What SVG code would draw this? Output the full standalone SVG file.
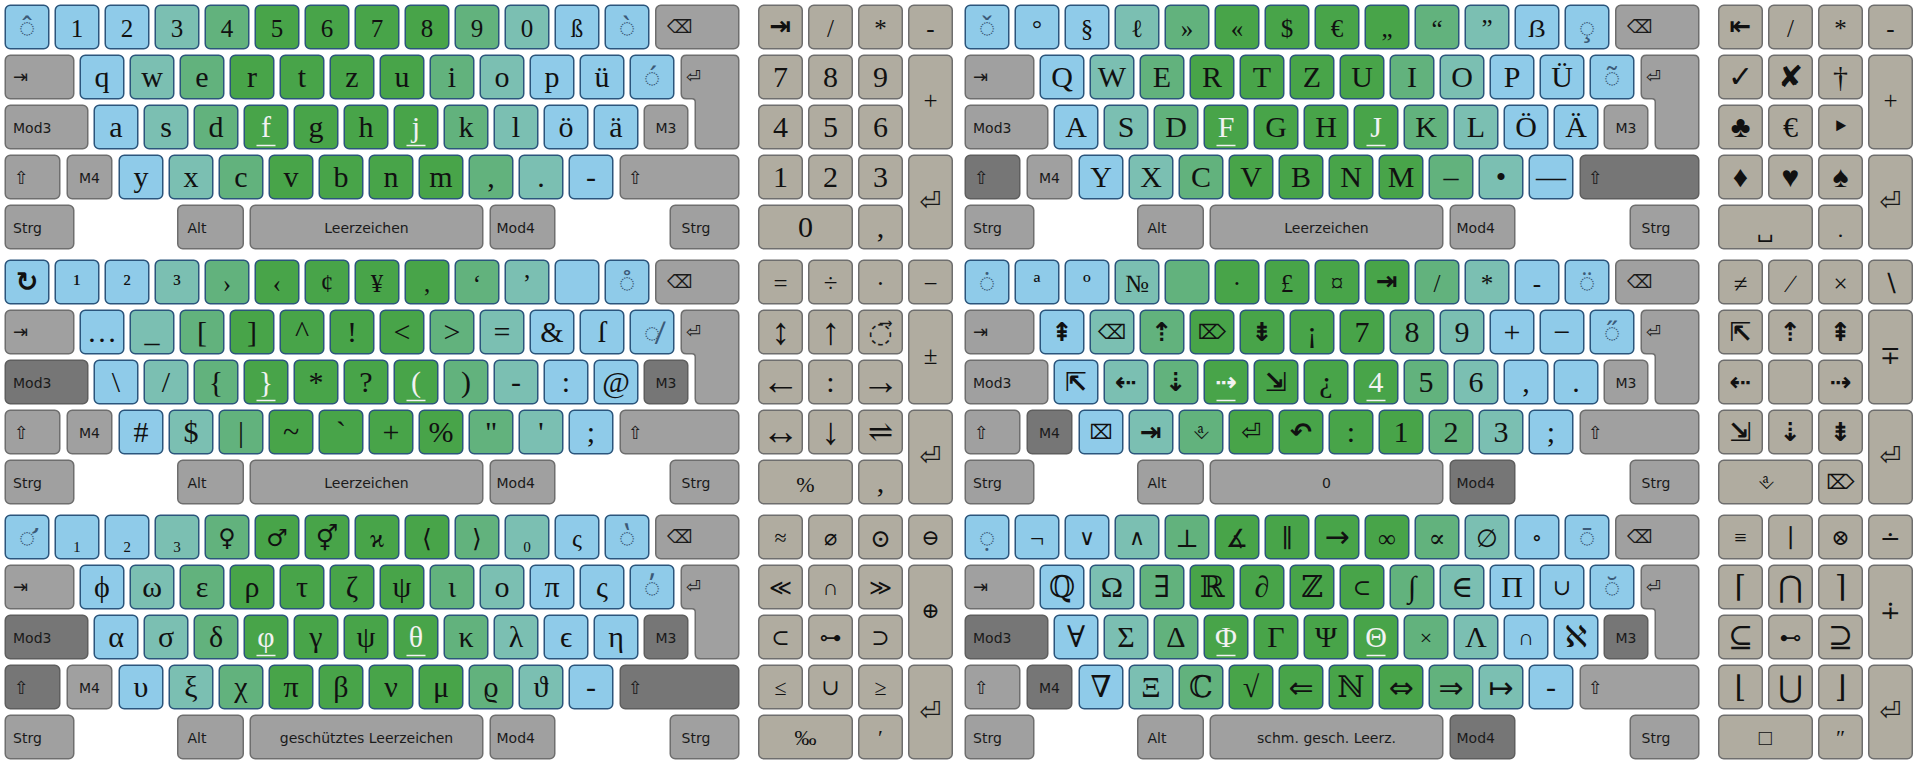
<svg xmlns="http://www.w3.org/2000/svg" width="1920" height="765" viewBox="0 0 1920 765">
<style>
.b{fill:#8fcbe9;stroke:#2b557c;stroke-width:1.5}
.t{fill:#7bbfb2;stroke:#2b557c;stroke-width:1.5}
.m{fill:#62b27d;stroke:#2b557c;stroke-width:1.5}
.g{fill:#48a449;stroke:#2b557c;stroke-width:1.5}
.n{fill:#a0a0a0;stroke:#6e6e6e;stroke-width:1.5}
.d{fill:#767676;stroke:#5e5e5e;stroke-width:1.5}
.p{fill:#b0aca0;stroke:#6e6e6e;stroke-width:1.5}
text{font-family:"Liberation Serif","DejaVu Serif","DejaVu Sans",serif;text-anchor:middle;fill:#111}
.R1 text{font-size:25px}
.R text{font-size:30px}
text.dk{font-family:"Noto Sans","DejaVu Sans",sans-serif;font-size:28px;fill:#3b5a78}
text.w{fill:#f2f2f2}
text.lb{font-family:"DejaVu Sans",sans-serif;font-size:14px;text-anchor:start;fill:#1a1a1a}
text.lc{font-family:"DejaVu Sans",sans-serif;font-size:14px;fill:#1a1a1a}
text.sy{font-family:"DejaVu Sans",sans-serif;font-size:18px;text-anchor:start;fill:#1a1a1a}
text.en{font-family:"DejaVu Sans",sans-serif;font-size:26px;fill:#1a1a1a}
text.ts{font-family:"DejaVu Sans",sans-serif;font-size:20px}
text.ar{font-family:"DejaVu Sans",sans-serif;font-size:30px}
text.la{font-family:"Liberation Serif","DejaVu Serif",serif;font-size:38px}
text.bd{font-family:"DejaVu Sans",sans-serif;font-size:26px;font-weight:bold}
text.sm{font-size:22px}
text.gs{font-family:"DejaVu Sans",sans-serif;font-size:24px}
.u{stroke:#f2f2f2;stroke-width:1.5;fill:none}
</style>
<defs>
<rect id="k" width="43.5" height="43.5" rx="5"/>
<rect id="bs" width="83" height="43.5" rx="5"/>
<rect id="tb" width="68.5" height="43.5" rx="5"/>
<rect id="m3w" width="82.5" height="43.5" rx="5"/>
<rect id="ls" width="54.5" height="43.5" rx="5"/>
<rect id="m4k" width="44.5" height="43.5" rx="5"/>
<rect id="rs" width="118.5" height="43.5" rx="5"/>
<rect id="al" width="65.5" height="43.5" rx="5"/>
<rect id="sp" width="232.5" height="43.5" rx="5"/>
<rect id="md4" width="64.5" height="43.5" rx="5"/>
<rect id="tl" width="43.5" height="93.5" rx="5"/>
<rect id="wd" width="93.5" height="43.5" rx="5"/>
<path id="en" d="M686.25,55.25H733.75Q738.75,55.25 738.75,60.25V143.75Q738.75,148.75 733.75,148.75H700.25Q695.25,148.75 695.25,143.75V102Q695.25,98.75 692,98.75H686.25Q681.25,98.75 681.25,93.75V60.25Q681.25,55.25 686.25,55.25Z"/>
</defs>
<rect width="1920" height="765" fill="#ffffff"/>
<g id="connectors"/>

<!-- ================= LAYER 1 ================= -->
<g id="L1" transform="translate(0 0)">
<g class="R1">
<g id="L1a0"><use href="#k" class="b" x="5.25" y="5.25"/><text class="dk" x="27" y="37">◌̂</text></g>
<g id="L1a1"><use href="#k" class="b" x="55.25" y="5.25"/><text x="77" y="36.5">1</text></g>
<g id="L1a2"><use href="#k" class="b" x="105.25" y="5.25"/><text x="127" y="36.5">2</text></g>
<g id="L1a3"><use href="#k" class="t" x="155.25" y="5.25"/><text x="177" y="36.5">3</text></g>
<g id="L1a4"><use href="#k" class="m" x="205.25" y="5.25"/><text x="227" y="36.5">4</text></g>
<g id="L1a5"><use href="#k" class="g" x="255.25" y="5.25"/><text x="277" y="36.5">5</text></g>
<g id="L1a6"><use href="#k" class="g" x="305.25" y="5.25"/><text x="327" y="36.5">6</text></g>
<g id="L1a7"><use href="#k" class="g" x="355.25" y="5.25"/><text x="377" y="36.5">7</text></g>
<g id="L1a8"><use href="#k" class="g" x="405.25" y="5.25"/><text x="427" y="36.5">8</text></g>
<g id="L1a9"><use href="#k" class="m" x="455.25" y="5.25"/><text x="477" y="36.5">9</text></g>
<g id="L1a10"><use href="#k" class="t" x="505.25" y="5.25"/><text x="527" y="36.5">0</text></g>
<g id="L1a11"><use href="#k" class="b" x="555.25" y="5.25"/><text x="577" y="36.5">ß</text></g>
<g id="L1a12"><use href="#k" class="b" x="605.25" y="5.25"/><text class="dk" x="627" y="37">◌̀</text></g>
</g>
<g class="R">
<g id="L1b0"><use href="#k" class="b" x="80.25" y="55.25"/><text x="102" y="86.5">q</text></g>
<g id="L1b1"><use href="#k" class="t" x="130.25" y="55.25"/><text x="152" y="86.5">w</text></g>
<g id="L1b2"><use href="#k" class="m" x="180.25" y="55.25"/><text x="202" y="86.5">e</text></g>
<g id="L1b3"><use href="#k" class="g" x="230.25" y="55.25"/><text x="252" y="86.5">r</text></g>
<g id="L1b4"><use href="#k" class="g" x="280.25" y="55.25"/><text x="302" y="86.5">t</text></g>
<g id="L1b5"><use href="#k" class="g" x="330.25" y="55.25"/><text x="352" y="86.5">z</text></g>
<g id="L1b6"><use href="#k" class="g" x="380.25" y="55.25"/><text x="402" y="86.5">u</text></g>
<g id="L1b7"><use href="#k" class="m" x="430.25" y="55.25"/><text x="452" y="86.5">i</text></g>
<g id="L1b8"><use href="#k" class="t" x="480.25" y="55.25"/><text x="502" y="86.5">o</text></g>
<g id="L1b9"><use href="#k" class="b" x="530.25" y="55.25"/><text x="552" y="86.5">p</text></g>
<g id="L1b10"><use href="#k" class="b" x="580.25" y="55.25"/><text x="602" y="86.5">ü</text></g>
<g id="L1b11"><use href="#k" class="b" x="630.25" y="55.25"/><text class="dk" x="652" y="87">◌́</text></g>
<g id="L1c0"><use href="#k" class="b" x="94.25" y="105.25"/><text x="116" y="136.5">a</text></g>
<g id="L1c1"><use href="#k" class="t" x="144.25" y="105.25"/><text x="166" y="136.5">s</text></g>
<g id="L1c2"><use href="#k" class="m" x="194.25" y="105.25"/><text x="216" y="136.5">d</text></g>
<g id="L1c3"><use href="#k" class="g" x="244.25" y="105.25"/><text class="w" x="266" y="136.5">f</text><path class="u" d="M256.5 145.5h19"/></g>
<g id="L1c4"><use href="#k" class="g" x="294.25" y="105.25"/><text x="316" y="136.5">g</text></g>
<g id="L1c5"><use href="#k" class="g" x="344.25" y="105.25"/><text x="366" y="136.5">h</text></g>
<g id="L1c6"><use href="#k" class="g" x="394.25" y="105.25"/><text class="w" x="416" y="136.5">j</text><path class="u" d="M406.5 145.5h19"/></g>
<g id="L1c7"><use href="#k" class="m" x="444.25" y="105.25"/><text x="466" y="136.5">k</text></g>
<g id="L1c8"><use href="#k" class="t" x="494.25" y="105.25"/><text x="516" y="136.5">l</text></g>
<g id="L1c9"><use href="#k" class="b" x="544.25" y="105.25"/><text x="566" y="136.5">ö</text></g>
<g id="L1c10"><use href="#k" class="b" x="594.25" y="105.25"/><text x="616" y="136.5">ä</text></g>
<g id="L1d0"><use href="#k" class="b" x="119.25" y="155.25"/><text x="141" y="186.5">y</text></g>
<g id="L1d1"><use href="#k" class="t" x="169.25" y="155.25"/><text x="191" y="186.5">x</text></g>
<g id="L1d2"><use href="#k" class="m" x="219.25" y="155.25"/><text x="241" y="186.5">c</text></g>
<g id="L1d3"><use href="#k" class="g" x="269.25" y="155.25"/><text x="291" y="186.5">v</text></g>
<g id="L1d4"><use href="#k" class="g" x="319.25" y="155.25"/><text x="341" y="186.5">b</text></g>
<g id="L1d5"><use href="#k" class="g" x="369.25" y="155.25"/><text x="391" y="186.5">n</text></g>
<g id="L1d6"><use href="#k" class="g" x="419.25" y="155.25"/><text x="441" y="186.5">m</text></g>
<g id="L1d7"><use href="#k" class="m" x="469.25" y="155.25"/><text x="491" y="186.5">,</text></g>
<g id="L1d8"><use href="#k" class="t" x="519.25" y="155.25"/><text x="541" y="186.5">.</text></g>
<g id="L1d9"><use href="#k" class="b" x="569.25" y="155.25"/><text x="591" y="186.5">-</text></g>
</g>
<g id="L1bs"><use href="#bs" class="n" x="655.75" y="5.25"/><text class="sy" x="667" y="33">⌫</text></g>
<g id="L1tab"><use href="#tb" class="n" x="5.25" y="55.25"/><text class="sy" x="13" y="83">⇥</text></g>
<g id="L1ent"><use href="#en" class="n"/><text class="sy" x="686" y="83">⏎</text></g>
<g id="L1mod3"><use href="#m3w" class="n" x="5.25" y="105.25"/><text class="lb" x="13" y="133">Mod3</text></g>
<g id="L1m3"><use href="#k" class="n" x="644.25" y="105.25"/><text class="lc" x="666" y="133">M3</text></g>
<g id="L1ls"><use href="#ls" class="n" x="5.25" y="155.25"/><text class="sy" x="14" y="184">⇧</text></g>
<g id="L1m4"><use href="#m4k" class="n" x="67.25" y="155.25"/><text class="lc" x="89.5" y="183">M4</text></g>
<g id="L1rs"><use href="#rs" class="n" x="620.25" y="155.25"/><text class="sy" x="628" y="184">⇧</text></g>
<g id="L1strgl"><use href="#tb" class="n" x="5.25" y="205.25"/><text class="lb" x="13" y="233">Strg</text></g>
<g id="L1alt"><use href="#al" class="n" x="177.75" y="205.25"/><text class="lb" x="187.5" y="233">Alt</text></g>
<g id="L1sp"><use href="#sp" class="n" x="250.25" y="205.25"/><text class="lc" x="366.5" y="233">Leerzeichen</text></g>
<g id="L1mod4"><use href="#md4" class="n" x="490.25" y="205.25"/><text class="lb" x="496.5" y="233">Mod4</text></g>
<g id="L1strgr"><use href="#tb" class="n" x="670.25" y="205.25"/><text class="lb" x="681.5" y="233">Strg</text></g>
<g class="R1">
<g id="L1n0"><use href="#k" class="p" x="758.75" y="5.25"/><text class="bd" x="780.5" y="35">⇥</text></g>
<g id="L1n1"><use href="#k" class="p" x="808.75" y="5.25"/><text x="830.5" y="36.5">/</text></g>
<g id="L1n2"><use href="#k" class="p" x="858.75" y="5.25"/><text x="880.5" y="36.5">*</text></g>
<g id="L1n3"><use href="#k" class="p" x="908.75" y="5.25"/><text x="930.5" y="36.5">-</text></g>
<g id="L1n4"><use href="#tl" class="p" x="908.75" y="55.25"/><text x="930.5" y="109">+</text></g>
</g>
<g class="R">
<g id="L1n5"><use href="#k" class="p" x="758.75" y="55.25"/><text x="780.5" y="86.5">7</text></g>
<g id="L1n6"><use href="#k" class="p" x="808.75" y="55.25"/><text x="830.5" y="86.5">8</text></g>
<g id="L1n7"><use href="#k" class="p" x="858.75" y="55.25"/><text x="880.5" y="86.5">9</text></g>
<g id="L1n8"><use href="#k" class="p" x="758.75" y="105.25"/><text x="780.5" y="136.5">4</text></g>
<g id="L1n9"><use href="#k" class="p" x="808.75" y="105.25"/><text x="830.5" y="136.5">5</text></g>
<g id="L1n10"><use href="#k" class="p" x="858.75" y="105.25"/><text x="880.5" y="136.5">6</text></g>
<g id="L1n11"><use href="#k" class="p" x="758.75" y="155.25"/><text x="780.5" y="186.5">1</text></g>
<g id="L1n12"><use href="#k" class="p" x="808.75" y="155.25"/><text x="830.5" y="186.5">2</text></g>
<g id="L1n13"><use href="#k" class="p" x="858.75" y="155.25"/><text x="880.5" y="186.5">3</text></g>
<g id="L1n14"><use href="#tl" class="p" x="908.75" y="155.25"/><text class="en" x="930.5" y="210">⏎</text></g>
<g id="L1n15"><use href="#wd" class="p" x="758.75" y="205.25"/><text x="805.5" y="236.5">0</text></g>
<g id="L1n16"><use href="#k" class="p" x="858.75" y="205.25"/><text x="880.5" y="236.5">,</text></g>
</g>
</g>

<!-- ================= LAYER 2 ================= -->
<g id="L2" transform="translate(960 0)">
<g class="R1">
<g id="L2a0"><use href="#k" class="b" x="5.25" y="5.25"/><text class="dk" x="27" y="37">◌̌</text></g>
<g id="L2a1"><use href="#k" class="b" x="55.25" y="5.25"/><text x="77" y="36.5">°</text></g>
<g id="L2a2"><use href="#k" class="b" x="105.25" y="5.25"/><text x="127" y="36.5">§</text></g>
<g id="L2a3"><use href="#k" class="t" x="155.25" y="5.25"/><text x="177" y="36.5">ℓ</text></g>
<g id="L2a4"><use href="#k" class="m" x="205.25" y="5.25"/><text x="227" y="36.5">»</text></g>
<g id="L2a5"><use href="#k" class="g" x="255.25" y="5.25"/><text x="277" y="36.5">«</text></g>
<g id="L2a6"><use href="#k" class="g" x="305.25" y="5.25"/><text x="327" y="36.5">$</text></g>
<g id="L2a7"><use href="#k" class="g" x="355.25" y="5.25"/><text x="377" y="36.5">€</text></g>
<g id="L2a8"><use href="#k" class="g" x="405.25" y="5.25"/><text x="427" y="36.5">„</text></g>
<g id="L2a9"><use href="#k" class="m" x="455.25" y="5.25"/><text x="477" y="36.5">“</text></g>
<g id="L2a10"><use href="#k" class="t" x="505.25" y="5.25"/><text x="527" y="36.5">”</text></g>
<g id="L2a11"><use href="#k" class="b" x="555.25" y="5.25"/><text x="577" y="36.5">ẞ</text></g>
<g id="L2a12"><use href="#k" class="b" x="605.25" y="5.25"/><text class="dk" x="627" y="37">◌̧</text></g>
</g>
<g class="R">
<g id="L2b0"><use href="#k" class="b" x="80.25" y="55.25"/><text x="102" y="86.5">Q</text></g>
<g id="L2b1"><use href="#k" class="t" x="130.25" y="55.25"/><text x="152" y="86.5">W</text></g>
<g id="L2b2"><use href="#k" class="m" x="180.25" y="55.25"/><text x="202" y="86.5">E</text></g>
<g id="L2b3"><use href="#k" class="g" x="230.25" y="55.25"/><text x="252" y="86.5">R</text></g>
<g id="L2b4"><use href="#k" class="g" x="280.25" y="55.25"/><text x="302" y="86.5">T</text></g>
<g id="L2b5"><use href="#k" class="g" x="330.25" y="55.25"/><text x="352" y="86.5">Z</text></g>
<g id="L2b6"><use href="#k" class="g" x="380.25" y="55.25"/><text x="402" y="86.5">U</text></g>
<g id="L2b7"><use href="#k" class="m" x="430.25" y="55.25"/><text x="452" y="86.5">I</text></g>
<g id="L2b8"><use href="#k" class="t" x="480.25" y="55.25"/><text x="502" y="86.5">O</text></g>
<g id="L2b9"><use href="#k" class="b" x="530.25" y="55.25"/><text x="552" y="86.5">P</text></g>
<g id="L2b10"><use href="#k" class="b" x="580.25" y="55.25"/><text x="602" y="86.5">Ü</text></g>
<g id="L2b11"><use href="#k" class="b" x="630.25" y="55.25"/><text class="dk" x="652" y="87">◌̃</text></g>
<g id="L2c0"><use href="#k" class="b" x="94.25" y="105.25"/><text x="116" y="136.5">A</text></g>
<g id="L2c1"><use href="#k" class="t" x="144.25" y="105.25"/><text x="166" y="136.5">S</text></g>
<g id="L2c2"><use href="#k" class="m" x="194.25" y="105.25"/><text x="216" y="136.5">D</text></g>
<g id="L2c3"><use href="#k" class="g" x="244.25" y="105.25"/><text class="w" x="266" y="136.5">F</text><path class="u" d="M256.5 145.5h19"/></g>
<g id="L2c4"><use href="#k" class="g" x="294.25" y="105.25"/><text x="316" y="136.5">G</text></g>
<g id="L2c5"><use href="#k" class="g" x="344.25" y="105.25"/><text x="366" y="136.5">H</text></g>
<g id="L2c6"><use href="#k" class="g" x="394.25" y="105.25"/><text class="w" x="416" y="136.5">J</text><path class="u" d="M406.5 145.5h19"/></g>
<g id="L2c7"><use href="#k" class="m" x="444.25" y="105.25"/><text x="466" y="136.5">K</text></g>
<g id="L2c8"><use href="#k" class="t" x="494.25" y="105.25"/><text x="516" y="136.5">L</text></g>
<g id="L2c9"><use href="#k" class="b" x="544.25" y="105.25"/><text x="566" y="136.5">Ö</text></g>
<g id="L2c10"><use href="#k" class="b" x="594.25" y="105.25"/><text x="616" y="136.5">Ä</text></g>
<g id="L2d0"><use href="#k" class="b" x="119.25" y="155.25"/><text x="141" y="186.5">Y</text></g>
<g id="L2d1"><use href="#k" class="t" x="169.25" y="155.25"/><text x="191" y="186.5">X</text></g>
<g id="L2d2"><use href="#k" class="m" x="219.25" y="155.25"/><text x="241" y="186.5">C</text></g>
<g id="L2d3"><use href="#k" class="g" x="269.25" y="155.25"/><text x="291" y="186.5">V</text></g>
<g id="L2d4"><use href="#k" class="g" x="319.25" y="155.25"/><text x="341" y="186.5">B</text></g>
<g id="L2d5"><use href="#k" class="g" x="369.25" y="155.25"/><text x="391" y="186.5">N</text></g>
<g id="L2d6"><use href="#k" class="g" x="419.25" y="155.25"/><text x="441" y="186.5">M</text></g>
<g id="L2d7"><use href="#k" class="m" x="469.25" y="155.25"/><text x="491" y="186.5">–</text></g>
<g id="L2d8"><use href="#k" class="t" x="519.25" y="155.25"/><text x="541" y="186.5">•</text></g>
<g id="L2d9"><use href="#k" class="b" x="569.25" y="155.25"/><text x="591" y="186.5">—</text></g>
</g>
<g id="L2bs"><use href="#bs" class="n" x="655.75" y="5.25"/><text class="sy" x="667" y="33">⌫</text></g>
<g id="L2tab"><use href="#tb" class="n" x="5.25" y="55.25"/><text class="sy" x="13" y="83">⇥</text></g>
<g id="L2ent"><use href="#en" class="n"/><text class="sy" x="686" y="83">⏎</text></g>
<g id="L2mod3"><use href="#m3w" class="n" x="5.25" y="105.25"/><text class="lb" x="13" y="133">Mod3</text></g>
<g id="L2m3"><use href="#k" class="n" x="644.25" y="105.25"/><text class="lc" x="666" y="133">M3</text></g>
<g id="L2ls"><use href="#ls" class="d" x="5.25" y="155.25"/><text class="sy" x="14" y="184">⇧</text></g>
<g id="L2m4"><use href="#m4k" class="n" x="67.25" y="155.25"/><text class="lc" x="89.5" y="183">M4</text></g>
<g id="L2rs"><use href="#rs" class="d" x="620.25" y="155.25"/><text class="sy" x="628" y="184">⇧</text></g>
<g id="L2strgl"><use href="#tb" class="n" x="5.25" y="205.25"/><text class="lb" x="13" y="233">Strg</text></g>
<g id="L2alt"><use href="#al" class="n" x="177.75" y="205.25"/><text class="lb" x="187.5" y="233">Alt</text></g>
<g id="L2sp"><use href="#sp" class="n" x="250.25" y="205.25"/><text class="lc" x="366.5" y="233">Leerzeichen</text></g>
<g id="L2mod4"><use href="#md4" class="n" x="490.25" y="205.25"/><text class="lb" x="496.5" y="233">Mod4</text></g>
<g id="L2strgr"><use href="#tb" class="n" x="670.25" y="205.25"/><text class="lb" x="681.5" y="233">Strg</text></g>
<g class="R1">
<g id="L2n0"><use href="#k" class="p" x="758.75" y="5.25"/><text class="bd" x="780.5" y="35">⇤</text></g>
<g id="L2n1"><use href="#k" class="p" x="808.75" y="5.25"/><text x="830.5" y="36.5">/</text></g>
<g id="L2n2"><use href="#k" class="p" x="858.75" y="5.25"/><text x="880.5" y="36.5">*</text></g>
<g id="L2n3"><use href="#k" class="p" x="908.75" y="5.25"/><text x="930.5" y="36.5">-</text></g>
<g id="L2n4"><use href="#tl" class="p" x="908.75" y="55.25"/><text x="930.5" y="109">+</text></g>
</g>
<g class="R">
<g id="L2n5"><use href="#k" class="p" x="758.75" y="55.25"/><text x="780.5" y="86.5">✓</text></g>
<g id="L2n6"><use href="#k" class="p" x="808.75" y="55.25"/><text x="830.5" y="86.5">✘</text></g>
<g id="L2n7"><use href="#k" class="p" x="858.75" y="55.25"/><text x="880.5" y="86.5">†</text></g>
<g id="L2n8"><use href="#k" class="p" x="758.75" y="105.25"/><text x="780.5" y="136.5">♣</text></g>
<g id="L2n9"><use href="#k" class="p" x="808.75" y="105.25"/><text x="830.5" y="136.5">€</text></g>
<g id="L2n10"><use href="#k" class="p" x="858.75" y="105.25"/><text x="880.5" y="136.5">‣</text></g>
<g id="L2n11"><use href="#k" class="p" x="758.75" y="155.25"/><text x="780.5" y="186.5">♦</text></g>
<g id="L2n12"><use href="#k" class="p" x="808.75" y="155.25"/><text x="830.5" y="186.5">♥</text></g>
<g id="L2n13"><use href="#k" class="p" x="858.75" y="155.25"/><text x="880.5" y="186.5">♠</text></g>
<g id="L2n14"><use href="#tl" class="p" x="908.75" y="155.25"/><text class="en" x="930.5" y="210">⏎</text></g>
<g id="L2n15"><use href="#wd" class="p" x="758.75" y="205.25"/><text class="sm" x="805.5" y="236.5">␣</text></g>
<g id="L2n16"><use href="#k" class="p" x="858.75" y="205.25"/><text class="sm" x="880.5" y="236.5">.</text></g>
</g>
</g>

<!-- ================= LAYER 3 ================= -->
<g id="L3" transform="translate(0 255)">
<g class="R1">
<g id="L3a0"><use href="#k" class="b" x="5.25" y="5.25"/><text class="bd" x="27" y="36" style="font-size:27px">↻</text></g>
<g id="L3a1"><use href="#k" class="b" x="55.25" y="5.25"/><text x="77" y="36.5">¹</text></g>
<g id="L3a2"><use href="#k" class="b" x="105.25" y="5.25"/><text x="127" y="36.5">²</text></g>
<g id="L3a3"><use href="#k" class="t" x="155.25" y="5.25"/><text x="177" y="36.5">³</text></g>
<g id="L3a4"><use href="#k" class="m" x="205.25" y="5.25"/><text x="227" y="36.5">›</text></g>
<g id="L3a5"><use href="#k" class="g" x="255.25" y="5.25"/><text x="277" y="36.5">‹</text></g>
<g id="L3a6"><use href="#k" class="g" x="305.25" y="5.25"/><text x="327" y="36.5">¢</text></g>
<g id="L3a7"><use href="#k" class="g" x="355.25" y="5.25"/><text x="377" y="36.5">¥</text></g>
<g id="L3a8"><use href="#k" class="g" x="405.25" y="5.25"/><text x="427" y="36.5">‚</text></g>
<g id="L3a9"><use href="#k" class="m" x="455.25" y="5.25"/><text x="477" y="36.5">‘</text></g>
<g id="L3a10"><use href="#k" class="t" x="505.25" y="5.25"/><text x="527" y="36.5">’</text></g>
<g id="L3a11"><use href="#k" class="b" x="555.25" y="5.25"/></g>
<g id="L3a12"><use href="#k" class="b" x="605.25" y="5.25"/><text class="dk" x="627" y="37">◌̊</text></g>
</g>
<g class="R">
<g id="L3b0"><use href="#k" class="b" x="80.25" y="55.25"/><text x="102" y="86.5">…</text></g>
<g id="L3b1"><use href="#k" class="t" x="130.25" y="55.25"/><text x="152" y="86.5">_</text></g>
<g id="L3b2"><use href="#k" class="m" x="180.25" y="55.25"/><text x="202" y="86.5">[</text></g>
<g id="L3b3"><use href="#k" class="g" x="230.25" y="55.25"/><text x="252" y="86.5">]</text></g>
<g id="L3b4"><use href="#k" class="g" x="280.25" y="55.25"/><text x="302" y="86.5">^</text></g>
<g id="L3b5"><use href="#k" class="g" x="330.25" y="55.25"/><text x="352" y="86.5">!</text></g>
<g id="L3b6"><use href="#k" class="g" x="380.25" y="55.25"/><text x="402" y="86.5">&lt;</text></g>
<g id="L3b7"><use href="#k" class="m" x="430.25" y="55.25"/><text x="452" y="86.5">&gt;</text></g>
<g id="L3b8"><use href="#k" class="t" x="480.25" y="55.25"/><text x="502" y="86.5">=</text></g>
<g id="L3b9"><use href="#k" class="b" x="530.25" y="55.25"/><text x="552" y="86.5">&amp;</text></g>
<g id="L3b10"><use href="#k" class="b" x="580.25" y="55.25"/><text x="602" y="86.5">ſ</text></g>
<g id="L3b11"><use href="#k" class="b" x="630.25" y="55.25"/><text class="dk" x="652" y="87">◌̸</text></g>
<g id="L3c0"><use href="#k" class="b" x="94.25" y="105.25"/><text x="116" y="136.5">\</text></g>
<g id="L3c1"><use href="#k" class="t" x="144.25" y="105.25"/><text x="166" y="136.5">/</text></g>
<g id="L3c2"><use href="#k" class="m" x="194.25" y="105.25"/><text x="216" y="136.5">{</text></g>
<g id="L3c3"><use href="#k" class="g" x="244.25" y="105.25"/><text class="w" x="266" y="136.5">}</text><path class="u" d="M256.5 145.5h19"/></g>
<g id="L3c4"><use href="#k" class="g" x="294.25" y="105.25"/><text x="316" y="136.5">*</text></g>
<g id="L3c5"><use href="#k" class="g" x="344.25" y="105.25"/><text x="366" y="136.5">?</text></g>
<g id="L3c6"><use href="#k" class="g" x="394.25" y="105.25"/><text class="w" x="416" y="136.5">(</text><path class="u" d="M406.5 145.5h19"/></g>
<g id="L3c7"><use href="#k" class="m" x="444.25" y="105.25"/><text x="466" y="136.5">)</text></g>
<g id="L3c8"><use href="#k" class="t" x="494.25" y="105.25"/><text x="516" y="136.5">-</text></g>
<g id="L3c9"><use href="#k" class="b" x="544.25" y="105.25"/><text x="566" y="136.5">:</text></g>
<g id="L3c10"><use href="#k" class="b" x="594.25" y="105.25"/><text x="616" y="136.5">@</text></g>
<g id="L3d0"><use href="#k" class="b" x="119.25" y="155.25"/><text x="141" y="186.5">#</text></g>
<g id="L3d1"><use href="#k" class="t" x="169.25" y="155.25"/><text x="191" y="186.5">$</text></g>
<g id="L3d2"><use href="#k" class="m" x="219.25" y="155.25"/><text x="241" y="186.5">|</text></g>
<g id="L3d3"><use href="#k" class="g" x="269.25" y="155.25"/><text x="291" y="186.5">~</text></g>
<g id="L3d4"><use href="#k" class="g" x="319.25" y="155.25"/><text x="341" y="186.5">`</text></g>
<g id="L3d5"><use href="#k" class="g" x="369.25" y="155.25"/><text x="391" y="186.5">+</text></g>
<g id="L3d6"><use href="#k" class="g" x="419.25" y="155.25"/><text x="441" y="186.5">%</text></g>
<g id="L3d7"><use href="#k" class="m" x="469.25" y="155.25"/><text x="491" y="186.5">"</text></g>
<g id="L3d8"><use href="#k" class="t" x="519.25" y="155.25"/><text x="541" y="186.5">'</text></g>
<g id="L3d9"><use href="#k" class="b" x="569.25" y="155.25"/><text x="591" y="186.5">;</text></g>
</g>
<g id="L3bs"><use href="#bs" class="n" x="655.75" y="5.25"/><text class="sy" x="667" y="33">⌫</text></g>
<g id="L3tab"><use href="#tb" class="n" x="5.25" y="55.25"/><text class="sy" x="13" y="83">⇥</text></g>
<g id="L3ent"><use href="#en" class="n"/><text class="sy" x="686" y="83">⏎</text></g>
<g id="L3mod3"><use href="#m3w" class="d" x="5.25" y="105.25"/><text class="lb" x="13" y="133">Mod3</text></g>
<g id="L3m3"><use href="#k" class="d" x="644.25" y="105.25"/><text class="lc" x="666" y="133">M3</text></g>
<g id="L3ls"><use href="#ls" class="n" x="5.25" y="155.25"/><text class="sy" x="14" y="184">⇧</text></g>
<g id="L3m4"><use href="#m4k" class="n" x="67.25" y="155.25"/><text class="lc" x="89.5" y="183">M4</text></g>
<g id="L3rs"><use href="#rs" class="n" x="620.25" y="155.25"/><text class="sy" x="628" y="184">⇧</text></g>
<g id="L3strgl"><use href="#tb" class="n" x="5.25" y="205.25"/><text class="lb" x="13" y="233">Strg</text></g>
<g id="L3alt"><use href="#al" class="n" x="177.75" y="205.25"/><text class="lb" x="187.5" y="233">Alt</text></g>
<g id="L3sp"><use href="#sp" class="n" x="250.25" y="205.25"/><text class="lc" x="366.5" y="233">Leerzeichen</text></g>
<g id="L3mod4"><use href="#md4" class="n" x="490.25" y="205.25"/><text class="lb" x="496.5" y="233">Mod4</text></g>
<g id="L3strgr"><use href="#tb" class="n" x="670.25" y="205.25"/><text class="lb" x="681.5" y="233">Strg</text></g>
<g class="R1">
<g id="L3n0"><use href="#k" class="p" x="758.75" y="5.25"/><text x="780.5" y="36.5">=</text></g>
<g id="L3n1"><use href="#k" class="p" x="808.75" y="5.25"/><text x="830.5" y="36.5">÷</text></g>
<g id="L3n2"><use href="#k" class="p" x="858.75" y="5.25"/><text x="880.5" y="36.5">·</text></g>
<g id="L3n3"><use href="#k" class="p" x="908.75" y="5.25"/><text x="930.5" y="36.5">−</text></g>
<g id="L3n4"><use href="#tl" class="p" x="908.75" y="55.25"/><text x="930.5" y="109">±</text></g>
</g>
<g class="R">
<g id="L3n5"><use href="#k" class="p" x="758.75" y="55.25"/><text class="la" x="780.5" y="89">↕</text></g>
<g id="L3n6"><use href="#k" class="p" x="808.75" y="55.25"/><text class="la" x="830.5" y="89">↑</text></g>
<g id="L3n7"><use href="#k" class="p" x="858.75" y="55.25"/><text class="dk" x="880.5" y="87" style="fill:#1a1a1a">◌⃗</text></g>
<g id="L3n8"><use href="#k" class="p" x="758.75" y="105.25"/><text class="la" x="780.5" y="139">←</text></g>
<g id="L3n9"><use href="#k" class="p" x="808.75" y="105.25"/><text x="830.5" y="136.5">:</text></g>
<g id="L3n10"><use href="#k" class="p" x="858.75" y="105.25"/><text class="la" x="880.5" y="139">→</text></g>
<g id="L3n11"><use href="#k" class="p" x="758.75" y="155.25"/><text class="la" x="780.5" y="189">↔</text></g>
<g id="L3n12"><use href="#k" class="p" x="808.75" y="155.25"/><text class="la" x="830.5" y="189">↓</text></g>
<g id="L3n13"><use href="#k" class="p" x="858.75" y="155.25"/><text x="880.5" y="186.5">⇌</text></g>
<g id="L3n14"><use href="#tl" class="p" x="908.75" y="155.25"/><text class="en" x="930.5" y="210">⏎</text></g>
<g id="L3n15"><use href="#wd" class="p" x="758.75" y="205.25"/><text class="sm" x="805.5" y="236.5">%</text></g>
<g id="L3n16"><use href="#k" class="p" x="858.75" y="205.25"/><text x="880.5" y="236.5">,</text></g>
</g>
</g>

<!-- ================= LAYER 4 ================= -->
<g id="L4" transform="translate(960 255)">
<g class="R1">
<g id="L4a0"><use href="#k" class="b" x="5.25" y="5.25"/><text class="dk" x="27" y="37">◌̇</text></g>
<g id="L4a1"><use href="#k" class="b" x="55.25" y="5.25"/><text x="77" y="36.5">ª</text></g>
<g id="L4a2"><use href="#k" class="b" x="105.25" y="5.25"/><text x="127" y="36.5">º</text></g>
<g id="L4a3"><use href="#k" class="t" x="155.25" y="5.25"/><text x="177" y="36.5">№</text></g>
<g id="L4a4"><use href="#k" class="m" x="205.25" y="5.25"/></g>
<g id="L4a5"><use href="#k" class="g" x="255.25" y="5.25"/><text x="277" y="36.5">·</text></g>
<g id="L4a6"><use href="#k" class="g" x="305.25" y="5.25"/><text x="327" y="36.5">£</text></g>
<g id="L4a7"><use href="#k" class="g" x="355.25" y="5.25"/><text x="377" y="36.5">¤</text></g>
<g id="L4a8"><use href="#k" class="g" x="405.25" y="5.25"/><text class="bd" x="427" y="35">⇥</text></g>
<g id="L4a9"><use href="#k" class="m" x="455.25" y="5.25"/><text x="477" y="36.5">/</text></g>
<g id="L4a10"><use href="#k" class="t" x="505.25" y="5.25"/><text x="527" y="36.5">*</text></g>
<g id="L4a11"><use href="#k" class="b" x="555.25" y="5.25"/><text x="577" y="36.5">-</text></g>
<g id="L4a12"><use href="#k" class="b" x="605.25" y="5.25"/><text class="dk" x="627" y="37">◌̈</text></g>
</g>
<g class="R">
<g id="L4b0"><use href="#k" class="b" x="80.25" y="55.25"/><text class="bd" x="102" y="86">⇞</text></g>
<g id="L4b1"><use href="#k" class="t" x="130.25" y="55.25"/><text class="ts" x="152" y="84">⌫</text></g>
<g id="L4b2"><use href="#k" class="m" x="180.25" y="55.25"/><text class="bd" x="202" y="86">⇡</text></g>
<g id="L4b3"><use href="#k" class="g" x="230.25" y="55.25"/><text class="ts" x="252" y="84">⌦</text></g>
<g id="L4b4"><use href="#k" class="g" x="280.25" y="55.25"/><text class="bd" x="302" y="86">⇟</text></g>
<g id="L4b5"><use href="#k" class="g" x="330.25" y="55.25"/><text x="352" y="86.5">¡</text></g>
<g id="L4b6"><use href="#k" class="g" x="380.25" y="55.25"/><text x="402" y="86.5">7</text></g>
<g id="L4b7"><use href="#k" class="m" x="430.25" y="55.25"/><text x="452" y="86.5">8</text></g>
<g id="L4b8"><use href="#k" class="t" x="480.25" y="55.25"/><text x="502" y="86.5">9</text></g>
<g id="L4b9"><use href="#k" class="b" x="530.25" y="55.25"/><text x="552" y="86.5">+</text></g>
<g id="L4b10"><use href="#k" class="b" x="580.25" y="55.25"/><text x="602" y="86.5">−</text></g>
<g id="L4b11"><use href="#k" class="b" x="630.25" y="55.25"/><text class="dk" x="652" y="87">◌̋</text></g>
<g id="L4c0"><use href="#k" class="b" x="94.25" y="105.25"/><text class="bd" x="116" y="136">⇱</text></g>
<g id="L4c1"><use href="#k" class="t" x="144.25" y="105.25"/><text class="bd" x="166" y="136">⇠</text></g>
<g id="L4c2"><use href="#k" class="m" x="194.25" y="105.25"/><text class="bd" x="216" y="136">⇣</text></g>
<g id="L4c3"><use href="#k" class="g" x="244.25" y="105.25"/><text class="bd w" x="266" y="136">⇢</text><path class="u" d="M256.5 145.5h19"/></g>
<g id="L4c4"><use href="#k" class="g" x="294.25" y="105.25"/><text class="bd" x="316" y="136">⇲</text></g>
<g id="L4c5"><use href="#k" class="g" x="344.25" y="105.25"/><text x="366" y="136.5">¿</text></g>
<g id="L4c6"><use href="#k" class="g" x="394.25" y="105.25"/><text class="w" x="416" y="136.5">4</text><path class="u" d="M406.5 145.5h19"/></g>
<g id="L4c7"><use href="#k" class="m" x="444.25" y="105.25"/><text x="466" y="136.5">5</text></g>
<g id="L4c8"><use href="#k" class="t" x="494.25" y="105.25"/><text x="516" y="136.5">6</text></g>
<g id="L4c9"><use href="#k" class="b" x="544.25" y="105.25"/><text x="566" y="136.5">,</text></g>
<g id="L4c10"><use href="#k" class="b" x="594.25" y="105.25"/><text x="616" y="136.5">.</text></g>
<g id="L4d0"><use href="#k" class="b" x="119.25" y="155.25"/><text class="ts" x="141" y="184">⌧</text></g>
<g id="L4d1"><use href="#k" class="t" x="169.25" y="155.25"/><text class="bd" x="191" y="186">⇥</text></g>
<g id="L4d2"><use href="#k" class="m" x="219.25" y="155.25"/><text class="ts" x="241" y="184">⎀</text></g>
<g id="L4d3"><use href="#k" class="g" x="269.25" y="155.25"/><text class="gs" x="291" y="185">⏎</text></g>
<g id="L4d4"><use href="#k" class="g" x="319.25" y="155.25"/><text class="bd" x="341" y="186">↶</text></g>
<g id="L4d5"><use href="#k" class="g" x="369.25" y="155.25"/><text x="391" y="186.5">:</text></g>
<g id="L4d6"><use href="#k" class="g" x="419.25" y="155.25"/><text x="441" y="186.5">1</text></g>
<g id="L4d7"><use href="#k" class="m" x="469.25" y="155.25"/><text x="491" y="186.5">2</text></g>
<g id="L4d8"><use href="#k" class="t" x="519.25" y="155.25"/><text x="541" y="186.5">3</text></g>
<g id="L4d9"><use href="#k" class="b" x="569.25" y="155.25"/><text x="591" y="186.5">;</text></g>
</g>
<g id="L4bs"><use href="#bs" class="n" x="655.75" y="5.25"/><text class="sy" x="667" y="33">⌫</text></g>
<g id="L4tab"><use href="#tb" class="n" x="5.25" y="55.25"/><text class="sy" x="13" y="83">⇥</text></g>
<g id="L4ent"><use href="#en" class="n"/><text class="sy" x="686" y="83">⏎</text></g>
<g id="L4mod3"><use href="#m3w" class="n" x="5.25" y="105.25"/><text class="lb" x="13" y="133">Mod3</text></g>
<g id="L4m3"><use href="#k" class="n" x="644.25" y="105.25"/><text class="lc" x="666" y="133">M3</text></g>
<g id="L4ls"><use href="#ls" class="n" x="5.25" y="155.25"/><text class="sy" x="14" y="184">⇧</text></g>
<g id="L4m4"><use href="#m4k" class="d" x="67.25" y="155.25"/><text class="lc" x="89.5" y="183">M4</text></g>
<g id="L4rs"><use href="#rs" class="n" x="620.25" y="155.25"/><text class="sy" x="628" y="184">⇧</text></g>
<g id="L4strgl"><use href="#tb" class="n" x="5.25" y="205.25"/><text class="lb" x="13" y="233">Strg</text></g>
<g id="L4alt"><use href="#al" class="n" x="177.75" y="205.25"/><text class="lb" x="187.5" y="233">Alt</text></g>
<g id="L4sp"><use href="#sp" class="n" x="250.25" y="205.25"/><text class="lc" x="366.5" y="233">0</text></g>
<g id="L4mod4"><use href="#md4" class="d" x="490.25" y="205.25"/><text class="lb" x="496.5" y="233">Mod4</text></g>
<g id="L4strgr"><use href="#tb" class="n" x="670.25" y="205.25"/><text class="lb" x="681.5" y="233">Strg</text></g>
<g class="R1">
<g id="L4n0"><use href="#k" class="p" x="758.75" y="5.25"/><text x="780.5" y="36.5">≠</text></g>
<g id="L4n1"><use href="#k" class="p" x="808.75" y="5.25"/><text x="830.5" y="36.5">∕</text></g>
<g id="L4n2"><use href="#k" class="p" x="858.75" y="5.25"/><text x="880.5" y="36.5">×</text></g>
<g id="L4n3"><use href="#k" class="p" x="908.75" y="5.25"/><text x="930.5" y="36.5">∖</text></g>
<g id="L4n4"><use href="#tl" class="p" x="908.75" y="55.25"/><text x="930.5" y="109">∓</text></g>
</g>
<g class="R">
<g id="L4n5"><use href="#k" class="p" x="758.75" y="55.25"/><text class="bd" x="780.5" y="86">⇱</text></g>
<g id="L4n6"><use href="#k" class="p" x="808.75" y="55.25"/><text class="bd" x="830.5" y="86">⇡</text></g>
<g id="L4n7"><use href="#k" class="p" x="858.75" y="55.25"/><text class="bd" x="880.5" y="86">⇞</text></g>
<g id="L4n8"><use href="#k" class="p" x="758.75" y="105.25"/><text class="bd" x="780.5" y="136">⇠</text></g>
<g id="L4n9"><use href="#k" class="p" x="808.75" y="105.25"/></g>
<g id="L4n10"><use href="#k" class="p" x="858.75" y="105.25"/><text class="bd" x="880.5" y="136">⇢</text></g>
<g id="L4n11"><use href="#k" class="p" x="758.75" y="155.25"/><text class="bd" x="780.5" y="186">⇲</text></g>
<g id="L4n12"><use href="#k" class="p" x="808.75" y="155.25"/><text class="bd" x="830.5" y="186">⇣</text></g>
<g id="L4n13"><use href="#k" class="p" x="858.75" y="155.25"/><text class="bd" x="880.5" y="186">⇟</text></g>
<g id="L4n14"><use href="#tl" class="p" x="908.75" y="155.25"/><text class="en" x="930.5" y="210">⏎</text></g>
<g id="L4n15"><use href="#wd" class="p" x="758.75" y="205.25"/><text class="ts" x="805.5" y="234">⎀</text></g>
<g id="L4n16"><use href="#k" class="p" x="858.75" y="205.25"/><text class="ts" x="880.5" y="234">⌦</text></g>
</g>
</g>

<!-- ================= LAYER 5 ================= -->
<g id="L5" transform="translate(0 510)">
<g class="R1">
<g id="L5a0"><use href="#k" class="b" x="5.25" y="5.25"/><text class="dk" x="27" y="37">◌̛</text></g>
<g id="L5a1"><use href="#k" class="b" x="55.25" y="5.25"/><text x="77" y="36.5">₁</text></g>
<g id="L5a2"><use href="#k" class="b" x="105.25" y="5.25"/><text x="127" y="36.5">₂</text></g>
<g id="L5a3"><use href="#k" class="t" x="155.25" y="5.25"/><text x="177" y="36.5">₃</text></g>
<g id="L5a4"><use href="#k" class="m" x="205.25" y="5.25"/><text class="gs" x="227" y="36">♀</text></g>
<g id="L5a5"><use href="#k" class="g" x="255.25" y="5.25"/><text class="gs" x="277" y="36">♂</text></g>
<g id="L5a6"><use href="#k" class="g" x="305.25" y="5.25"/><text x="327" y="36.5">⚥</text></g>
<g id="L5a7"><use href="#k" class="g" x="355.25" y="5.25"/><text x="377" y="36.5">ϰ</text></g>
<g id="L5a8"><use href="#k" class="g" x="405.25" y="5.25"/><text x="427" y="36.5">⟨</text></g>
<g id="L5a9"><use href="#k" class="m" x="455.25" y="5.25"/><text x="477" y="36.5">⟩</text></g>
<g id="L5a10"><use href="#k" class="t" x="505.25" y="5.25"/><text x="527" y="36.5">₀</text></g>
<g id="L5a11"><use href="#k" class="b" x="555.25" y="5.25"/><text x="577" y="36.5">ς</text></g>
<g id="L5a12"><use href="#k" class="b" x="605.25" y="5.25"/><text class="dk" x="627" y="37">◌̔</text></g>
</g>
<g class="R">
<g id="L5b0"><use href="#k" class="b" x="80.25" y="55.25"/><text x="102" y="86.5">ϕ</text></g>
<g id="L5b1"><use href="#k" class="t" x="130.25" y="55.25"/><text x="152" y="86.5">ω</text></g>
<g id="L5b2"><use href="#k" class="m" x="180.25" y="55.25"/><text x="202" y="86.5">ε</text></g>
<g id="L5b3"><use href="#k" class="g" x="230.25" y="55.25"/><text x="252" y="86.5">ρ</text></g>
<g id="L5b4"><use href="#k" class="g" x="280.25" y="55.25"/><text x="302" y="86.5">τ</text></g>
<g id="L5b5"><use href="#k" class="g" x="330.25" y="55.25"/><text x="352" y="86.5">ζ</text></g>
<g id="L5b6"><use href="#k" class="g" x="380.25" y="55.25"/><text x="402" y="86.5">ψ</text></g>
<g id="L5b7"><use href="#k" class="m" x="430.25" y="55.25"/><text x="452" y="86.5">ι</text></g>
<g id="L5b8"><use href="#k" class="t" x="480.25" y="55.25"/><text x="502" y="86.5">ο</text></g>
<g id="L5b9"><use href="#k" class="b" x="530.25" y="55.25"/><text x="552" y="86.5">π</text></g>
<g id="L5b10"><use href="#k" class="b" x="580.25" y="55.25"/><text x="602" y="86.5">ς</text></g>
<g id="L5b11"><use href="#k" class="b" x="630.25" y="55.25"/><text class="dk" x="652" y="87">◌̓</text></g>
<g id="L5c0"><use href="#k" class="b" x="94.25" y="105.25"/><text x="116" y="136.5">α</text></g>
<g id="L5c1"><use href="#k" class="t" x="144.25" y="105.25"/><text x="166" y="136.5">σ</text></g>
<g id="L5c2"><use href="#k" class="m" x="194.25" y="105.25"/><text x="216" y="136.5">δ</text></g>
<g id="L5c3"><use href="#k" class="g" x="244.25" y="105.25"/><text class="w" x="266" y="136.5">φ</text><path class="u" d="M256.5 145.5h19"/></g>
<g id="L5c4"><use href="#k" class="g" x="294.25" y="105.25"/><text x="316" y="136.5">γ</text></g>
<g id="L5c5"><use href="#k" class="g" x="344.25" y="105.25"/><text x="366" y="136.5">ψ</text></g>
<g id="L5c6"><use href="#k" class="g" x="394.25" y="105.25"/><text class="w" x="416" y="136.5">θ</text><path class="u" d="M406.5 145.5h19"/></g>
<g id="L5c7"><use href="#k" class="m" x="444.25" y="105.25"/><text x="466" y="136.5">κ</text></g>
<g id="L5c8"><use href="#k" class="t" x="494.25" y="105.25"/><text x="516" y="136.5">λ</text></g>
<g id="L5c9"><use href="#k" class="b" x="544.25" y="105.25"/><text x="566" y="136.5">ϵ</text></g>
<g id="L5c10"><use href="#k" class="b" x="594.25" y="105.25"/><text x="616" y="136.5">η</text></g>
<g id="L5d0"><use href="#k" class="b" x="119.25" y="155.25"/><text x="141" y="186.5">υ</text></g>
<g id="L5d1"><use href="#k" class="t" x="169.25" y="155.25"/><text x="191" y="186.5">ξ</text></g>
<g id="L5d2"><use href="#k" class="m" x="219.25" y="155.25"/><text x="241" y="186.5">χ</text></g>
<g id="L5d3"><use href="#k" class="g" x="269.25" y="155.25"/><text x="291" y="186.5">π</text></g>
<g id="L5d4"><use href="#k" class="g" x="319.25" y="155.25"/><text x="341" y="186.5">β</text></g>
<g id="L5d5"><use href="#k" class="g" x="369.25" y="155.25"/><text x="391" y="186.5">ν</text></g>
<g id="L5d6"><use href="#k" class="g" x="419.25" y="155.25"/><text x="441" y="186.5">μ</text></g>
<g id="L5d7"><use href="#k" class="m" x="469.25" y="155.25"/><text x="491" y="186.5">ϱ</text></g>
<g id="L5d8"><use href="#k" class="t" x="519.25" y="155.25"/><text x="541" y="186.5">ϑ</text></g>
<g id="L5d9"><use href="#k" class="b" x="569.25" y="155.25"/><text x="591" y="186.5">-</text></g>
</g>
<g id="L5bs"><use href="#bs" class="n" x="655.75" y="5.25"/><text class="sy" x="667" y="33">⌫</text></g>
<g id="L5tab"><use href="#tb" class="n" x="5.25" y="55.25"/><text class="sy" x="13" y="83">⇥</text></g>
<g id="L5ent"><use href="#en" class="n"/><text class="sy" x="686" y="83">⏎</text></g>
<g id="L5mod3"><use href="#m3w" class="d" x="5.25" y="105.25"/><text class="lb" x="13" y="133">Mod3</text></g>
<g id="L5m3"><use href="#k" class="d" x="644.25" y="105.25"/><text class="lc" x="666" y="133">M3</text></g>
<g id="L5ls"><use href="#ls" class="d" x="5.25" y="155.25"/><text class="sy" x="14" y="184">⇧</text></g>
<g id="L5m4"><use href="#m4k" class="n" x="67.25" y="155.25"/><text class="lc" x="89.5" y="183">M4</text></g>
<g id="L5rs"><use href="#rs" class="d" x="620.25" y="155.25"/><text class="sy" x="628" y="184">⇧</text></g>
<g id="L5strgl"><use href="#tb" class="n" x="5.25" y="205.25"/><text class="lb" x="13" y="233">Strg</text></g>
<g id="L5alt"><use href="#al" class="n" x="177.75" y="205.25"/><text class="lb" x="187.5" y="233">Alt</text></g>
<g id="L5sp"><use href="#sp" class="n" x="250.25" y="205.25"/><text class="lc" x="366.5" y="233">geschütztes Leerzeichen</text></g>
<g id="L5mod4"><use href="#md4" class="n" x="490.25" y="205.25"/><text class="lb" x="496.5" y="233">Mod4</text></g>
<g id="L5strgr"><use href="#tb" class="n" x="670.25" y="205.25"/><text class="lb" x="681.5" y="233">Strg</text></g>
<g class="R1">
<g id="L5n0"><use href="#k" class="p" x="758.75" y="5.25"/><text class="sm" x="780.5" y="35">≈</text></g>
<g id="L5n1"><use href="#k" class="p" x="808.75" y="5.25"/><text class="sm" x="830.5" y="35">⌀</text></g>
<g id="L5n2"><use href="#k" class="p" x="858.75" y="5.25"/><text x="880.5" y="36.5">⊙</text></g>
<g id="L5n3"><use href="#k" class="p" x="908.75" y="5.25"/><text class="sm" x="930.5" y="35">⊖</text></g>
<g id="L5n4"><use href="#tl" class="p" x="908.75" y="55.25"/><text class="sm" x="930.5" y="108">⊕</text></g>
</g>
<g class="R">
<g id="L5n5"><use href="#k" class="p" x="758.75" y="55.25"/><text class="sm" x="780.5" y="85">≪</text></g>
<g id="L5n6"><use href="#k" class="p" x="808.75" y="55.25"/><text class="sm" x="830.5" y="85">∩</text></g>
<g id="L5n7"><use href="#k" class="p" x="858.75" y="55.25"/><text class="sm" x="880.5" y="85">≫</text></g>
<g id="L5n8"><use href="#k" class="p" x="758.75" y="105.25"/><text class="sm" x="780.5" y="135">⊂</text></g>
<g id="L5n9"><use href="#k" class="p" x="808.75" y="105.25"/><text class="sm" x="830.5" y="135">⊶</text></g>
<g id="L5n10"><use href="#k" class="p" x="858.75" y="105.25"/><text class="sm" x="880.5" y="135">⊃</text></g>
<g id="L5n11"><use href="#k" class="p" x="758.75" y="155.25"/><text class="sm" x="780.5" y="185">≤</text></g>
<g id="L5n12"><use href="#k" class="p" x="808.75" y="155.25"/><text class="sm" x="830.5" y="185">∪</text></g>
<g id="L5n13"><use href="#k" class="p" x="858.75" y="155.25"/><text class="sm" x="880.5" y="185">≥</text></g>
<g id="L5n14"><use href="#tl" class="p" x="908.75" y="155.25"/><text class="en" x="930.5" y="210">⏎</text></g>
<g id="L5n15"><use href="#wd" class="p" x="758.75" y="205.25"/><text class="sm" x="805.5" y="235">‰</text></g>
<g id="L5n16"><use href="#k" class="p" x="858.75" y="205.25"/><text class="sm" x="880.5" y="235">′</text></g>
</g>
</g>

<!-- ================= LAYER 6 ================= -->
<g id="L6" transform="translate(960 510)">
<g class="R1">
<g id="L6a0"><use href="#k" class="b" x="5.25" y="5.25"/><text class="dk" x="27" y="37">◌̣</text></g>
<g id="L6a1"><use href="#k" class="b" x="55.25" y="5.25"/><text x="77" y="36.5">¬</text></g>
<g id="L6a2"><use href="#k" class="b" x="105.25" y="5.25"/><text class="sm" x="127" y="35">∨</text></g>
<g id="L6a3"><use href="#k" class="t" x="155.25" y="5.25"/><text class="sm" x="177" y="35">∧</text></g>
<g id="L6a4"><use href="#k" class="m" x="205.25" y="5.25"/><text x="227" y="36.5">⊥</text></g>
<g id="L6a5"><use href="#k" class="g" x="255.25" y="5.25"/><text x="277" y="36.5">∡</text></g>
<g id="L6a6"><use href="#k" class="g" x="305.25" y="5.25"/><text x="327" y="36.5">∥</text></g>
<g id="L6a7"><use href="#k" class="g" x="355.25" y="5.25"/><text class="ar" x="377" y="37">→</text></g>
<g id="L6a8"><use href="#k" class="g" x="405.25" y="5.25"/><text x="427" y="36.5">∞</text></g>
<g id="L6a9"><use href="#k" class="m" x="455.25" y="5.25"/><text x="477" y="36.5">∝</text></g>
<g id="L6a10"><use href="#k" class="t" x="505.25" y="5.25"/><text x="527" y="36.5">∅</text></g>
<g id="L6a11"><use href="#k" class="b" x="555.25" y="5.25"/><text class="sm" x="577" y="35">∘</text></g>
<g id="L6a12"><use href="#k" class="b" x="605.25" y="5.25"/><text class="dk" x="627" y="37">◌̄</text></g>
</g>
<g class="R">
<g id="L6b0"><use href="#k" class="b" x="80.25" y="55.25"/><text x="102" y="86.5">ℚ</text></g>
<g id="L6b1"><use href="#k" class="t" x="130.25" y="55.25"/><text x="152" y="86.5">Ω</text></g>
<g id="L6b2"><use href="#k" class="m" x="180.25" y="55.25"/><text x="202" y="86.5">∃</text></g>
<g id="L6b3"><use href="#k" class="g" x="230.25" y="55.25"/><text x="252" y="86.5">ℝ</text></g>
<g id="L6b4"><use href="#k" class="g" x="280.25" y="55.25"/><text x="302" y="86.5">∂</text></g>
<g id="L6b5"><use href="#k" class="g" x="330.25" y="55.25"/><text x="352" y="86.5">ℤ</text></g>
<g id="L6b6"><use href="#k" class="g" x="380.25" y="55.25"/><text class="sm" x="402" y="85">⊂</text></g>
<g id="L6b7"><use href="#k" class="m" x="430.25" y="55.25"/><text x="452" y="86.5">∫</text></g>
<g id="L6b8"><use href="#k" class="t" x="480.25" y="55.25"/><text x="502" y="86.5">∈</text></g>
<g id="L6b9"><use href="#k" class="b" x="530.25" y="55.25"/><text x="552" y="86.5">Π</text></g>
<g id="L6b10"><use href="#k" class="b" x="580.25" y="55.25"/><text class="sm" x="602" y="85">∪</text></g>
<g id="L6b11"><use href="#k" class="b" x="630.25" y="55.25"/><text class="dk" x="652" y="87">◌̆</text></g>
<g id="L6c0"><use href="#k" class="b" x="94.25" y="105.25"/><text x="116" y="136.5">∀</text></g>
<g id="L6c1"><use href="#k" class="t" x="144.25" y="105.25"/><text x="166" y="136.5">Σ</text></g>
<g id="L6c2"><use href="#k" class="m" x="194.25" y="105.25"/><text x="216" y="136.5">Δ</text></g>
<g id="L6c3"><use href="#k" class="g" x="244.25" y="105.25"/><text class="w" x="266" y="136.5">Φ</text><path class="u" d="M256.5 145.5h19"/></g>
<g id="L6c4"><use href="#k" class="g" x="294.25" y="105.25"/><text x="316" y="136.5">Γ</text></g>
<g id="L6c5"><use href="#k" class="g" x="344.25" y="105.25"/><text x="366" y="136.5">Ψ</text></g>
<g id="L6c6"><use href="#k" class="g" x="394.25" y="105.25"/><text class="w" x="416" y="136.5">Θ</text><path class="u" d="M406.5 145.5h19"/></g>
<g id="L6c7"><use href="#k" class="m" x="444.25" y="105.25"/><text class="sm" x="466" y="135">×</text></g>
<g id="L6c8"><use href="#k" class="t" x="494.25" y="105.25"/><text x="516" y="136.5">Λ</text></g>
<g id="L6c9"><use href="#k" class="b" x="544.25" y="105.25"/><text class="sm" x="566" y="135">∩</text></g>
<g id="L6c10"><use href="#k" class="b" x="594.25" y="105.25"/><text x="616" y="136.5">ℵ</text></g>
<g id="L6d0"><use href="#k" class="b" x="119.25" y="155.25"/><text x="141" y="186.5">∇</text></g>
<g id="L6d1"><use href="#k" class="t" x="169.25" y="155.25"/><text x="191" y="186.5">Ξ</text></g>
<g id="L6d2"><use href="#k" class="m" x="219.25" y="155.25"/><text x="241" y="186.5">ℂ</text></g>
<g id="L6d3"><use href="#k" class="g" x="269.25" y="155.25"/><text x="291" y="186.5">√</text></g>
<g id="L6d4"><use href="#k" class="g" x="319.25" y="155.25"/><text class="ar" x="341" y="188">⇐</text></g>
<g id="L6d5"><use href="#k" class="g" x="369.25" y="155.25"/><text x="391" y="186.5">ℕ</text></g>
<g id="L6d6"><use href="#k" class="g" x="419.25" y="155.25"/><text class="ar" x="441" y="188">⇔</text></g>
<g id="L6d7"><use href="#k" class="m" x="469.25" y="155.25"/><text class="ar" x="491" y="188">⇒</text></g>
<g id="L6d8"><use href="#k" class="t" x="519.25" y="155.25"/><text class="ar" x="541" y="188">↦</text></g>
<g id="L6d9"><use href="#k" class="b" x="569.25" y="155.25"/><text x="591" y="186.5">-</text></g>
</g>
<g id="L6bs"><use href="#bs" class="n" x="655.75" y="5.25"/><text class="sy" x="667" y="33">⌫</text></g>
<g id="L6tab"><use href="#tb" class="n" x="5.25" y="55.25"/><text class="sy" x="13" y="83">⇥</text></g>
<g id="L6ent"><use href="#en" class="n"/><text class="sy" x="686" y="83">⏎</text></g>
<g id="L6mod3"><use href="#m3w" class="d" x="5.25" y="105.25"/><text class="lb" x="13" y="133">Mod3</text></g>
<g id="L6m3"><use href="#k" class="d" x="644.25" y="105.25"/><text class="lc" x="666" y="133">M3</text></g>
<g id="L6ls"><use href="#ls" class="n" x="5.25" y="155.25"/><text class="sy" x="14" y="184">⇧</text></g>
<g id="L6m4"><use href="#m4k" class="d" x="67.25" y="155.25"/><text class="lc" x="89.5" y="183">M4</text></g>
<g id="L6rs"><use href="#rs" class="n" x="620.25" y="155.25"/><text class="sy" x="628" y="184">⇧</text></g>
<g id="L6strgl"><use href="#tb" class="n" x="5.25" y="205.25"/><text class="lb" x="13" y="233">Strg</text></g>
<g id="L6alt"><use href="#al" class="n" x="177.75" y="205.25"/><text class="lb" x="187.5" y="233">Alt</text></g>
<g id="L6sp"><use href="#sp" class="n" x="250.25" y="205.25"/><text class="lc" x="366.5" y="233">schm. gesch. Leerz.</text></g>
<g id="L6mod4"><use href="#md4" class="d" x="490.25" y="205.25"/><text class="lb" x="496.5" y="233">Mod4</text></g>
<g id="L6strgr"><use href="#tb" class="n" x="670.25" y="205.25"/><text class="lb" x="681.5" y="233">Strg</text></g>
<g class="R1">
<g id="L6n0"><use href="#k" class="p" x="758.75" y="5.25"/><text class="sm" x="780.5" y="35">≡</text></g>
<g id="L6n1"><use href="#k" class="p" x="808.75" y="5.25"/><text x="830.5" y="36.5">∣</text></g>
<g id="L6n2"><use href="#k" class="p" x="858.75" y="5.25"/><text class="sm" x="880.5" y="35">⊗</text></g>
<g id="L6n3"><use href="#k" class="p" x="908.75" y="5.25"/><text x="930.5" y="36.5">∸</text></g>
<g id="L6n4"><use href="#tl" class="p" x="908.75" y="55.25"/><text x="930.5" y="109">∔</text></g>
</g>
<g class="R">
<g id="L6n5"><use href="#k" class="p" x="758.75" y="55.25"/><text x="780.5" y="86.5">⌈</text></g>
<g id="L6n6"><use href="#k" class="p" x="808.75" y="55.25"/><text x="830.5" y="86.5">⋂</text></g>
<g id="L6n7"><use href="#k" class="p" x="858.75" y="55.25"/><text x="880.5" y="86.5">⌉</text></g>
<g id="L6n8"><use href="#k" class="p" x="758.75" y="105.25"/><text x="780.5" y="136.5">⊆</text></g>
<g id="L6n9"><use href="#k" class="p" x="808.75" y="105.25"/><text class="sm" x="830.5" y="135">⊷</text></g>
<g id="L6n10"><use href="#k" class="p" x="858.75" y="105.25"/><text x="880.5" y="136.5">⊇</text></g>
<g id="L6n11"><use href="#k" class="p" x="758.75" y="155.25"/><text x="780.5" y="186.5">⌊</text></g>
<g id="L6n12"><use href="#k" class="p" x="808.75" y="155.25"/><text x="830.5" y="186.5">⋃</text></g>
<g id="L6n13"><use href="#k" class="p" x="858.75" y="155.25"/><text x="880.5" y="186.5">⌋</text></g>
<g id="L6n14"><use href="#tl" class="p" x="908.75" y="155.25"/><text class="en" x="930.5" y="210">⏎</text></g>
<g id="L6n15"><use href="#wd" class="p" x="758.75" y="205.25"/><text class="sm" x="805.5" y="235">□</text></g>
<g id="L6n16"><use href="#k" class="p" x="858.75" y="205.25"/><text class="sm" x="880.5" y="235">″</text></g>
</g>
</g>
</svg>
